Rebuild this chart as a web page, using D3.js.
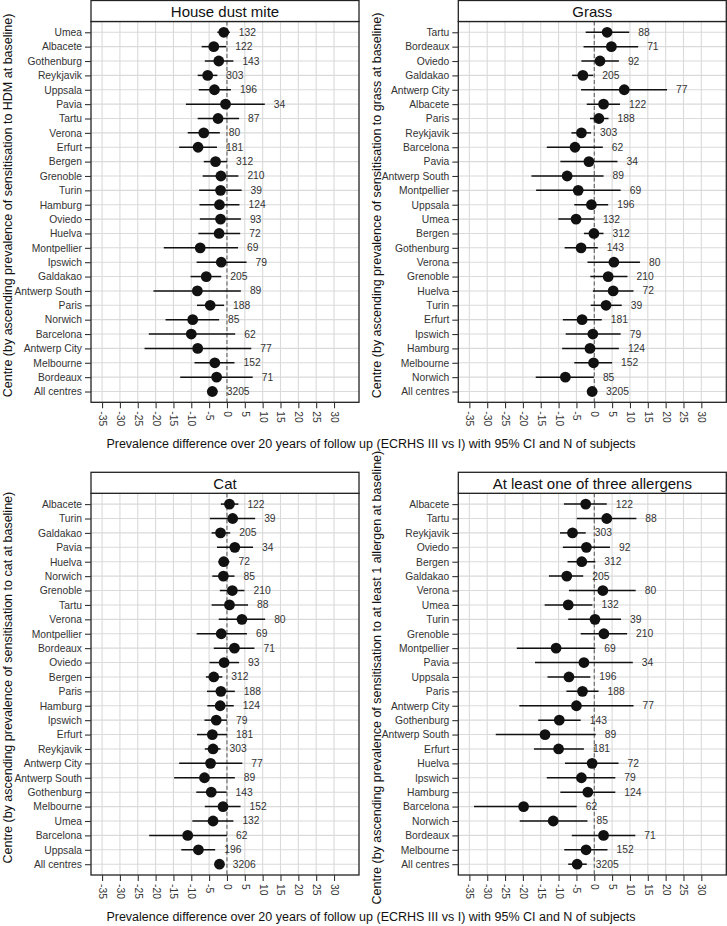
<!DOCTYPE html>
<html>
<head>
<meta charset="utf-8">
<script src="https://cdn.jsdelivr.net/npm/d3@7"></script>
<style>
  html, body { margin: 0; padding: 0; background: #fff; }
  svg { display: block; font-family: "Liberation Sans", Arial, sans-serif; }
</style>
</head>
<body>
<svg id="chart" width="727" height="926"></svg>
<script>
// ---------------- DATA ----------------
const xTicks = [-35, -30, -25, -20, -15, -10, -5, 0, 5, 10, 15, 20, 25, 30];

const hdmCentres = ["Umea","Albacete","Gothenburg","Reykjavik","Uppsala","Pavia","Tartu","Verona","Erfurt","Bergen","Grenoble","Turin","Hamburg","Oviedo","Huelva","Montpellier","Ipswich","Galdakao","Antwerp South","Paris","Norwich","Barcelona","Antwerp City","Melbourne","Bordeaux","All centres"];
const hdmEst = [-0.9,-3.7,-2.3,-5.4,-3.5,-0.4,-2.5,-6.5,-8.1,-3.2,-1.7,-1.8,-2.1,-1.8,-2.2,-7.5,-1.6,-5.8,-8.3,-4.7,-9.6,-10.0,-8.2,-3.4,-2.9,-4.1];
const hdmLo  = [-2.7,-7.1,-6.2,-8.2,-7.9,-11.5,-8.2,-11.0,-13.4,-6.5,-6.8,-7.8,-7.7,-7.6,-8.0,-17.7,-8.5,-10.2,-20.6,-8.4,-17.2,-21.9,-23.1,-9.1,-13.1,-5.6];
const hdmHi  = [0.8,-0.2,1.8,-2.7,1.1,10.6,3.4,-2.0,-2.8,0.0,3.2,4.1,3.5,3.9,3.7,3.1,5.5,-1.6,3.9,-0.8,-2.2,2.3,6.8,2.1,7.2,-2.6];
const hdmN   = [132,122,143,303,196,34,87,80,181,312,210,39,124,93,72,69,79,205,89,188,85,62,77,152,71,3205];

const grassCentres = ["Tartu","Bordeaux","Oviedo","Galdakao","Antwerp City","Albacete","Paris","Reykjavik","Barcelona","Pavia","Antwerp South","Montpellier","Uppsala","Umea","Bergen","Gothenburg","Verona","Grenoble","Huelva","Turin","Erfurt","Ipswich","Hamburg","Melbourne","Norwich","All centres"];
const grassEst = [3.6,4.8,1.6,-3.2,8.4,2.6,1.3,-3.6,-5.4,-1.5,-7.6,-4.5,-0.8,-5.1,-0.1,-3.7,5.5,3.9,5.3,3.3,-3.4,-0.4,-1.2,-0.2,-8.1,-0.6];
const grassLo  = [-2.4,-3.0,-3.6,-6.2,-3.7,-2.1,-1.2,-6.4,-13.3,-9.5,-17.6,-16.3,-5.6,-10.1,-2.9,-8.3,-1.9,-1.1,-0.4,-1.0,-8.8,-8.0,-9.0,-5.6,-16.4,-1.7];
const grassHi  = [9.8,12.3,6.9,-0.3,20.4,7.2,4.0,-0.9,2.4,6.5,2.6,7.4,3.9,-0.1,2.6,1.0,12.8,9.3,11.0,7.7,2.1,7.4,6.9,5.0,-0.1,0.8];
const grassN   = [88,71,92,205,77,122,188,303,62,34,89,69,196,132,312,143,80,210,72,39,181,79,124,152,85,3205];

const catCentres = ["Albacete","Turin","Galdakao","Pavia","Huelva","Norwich","Grenoble","Tartu","Verona","Montpellier","Bordeaux","Oviedo","Bergen","Paris","Hamburg","Ipswich","Erfurt","Reykjavik","Antwerp City","Antwerp South","Gothenburg","Melbourne","Umea","Barcelona","Uppsala","All centres"];
const catEst = [0.7,1.6,-1.8,2.2,-0.9,-1.0,1.5,0.7,4.2,-1.6,2.1,-0.8,-3.7,-1.7,-1.9,-3.0,-4.1,-3.9,-4.6,-6.3,-4.4,-1.1,-3.9,-11.0,-8.0,-2.1];
const catLo  = [-1.7,-4.8,-4.3,-2.8,-2.4,-4.1,-2.0,-4.3,-2.3,-8.5,-3.7,-4.9,-5.9,-5.6,-5.5,-6.3,-8.4,-6.2,-13.4,-14.8,-8.6,-6.2,-9.7,-21.8,-12.8,-3.4];
const catHi  = [3.2,7.9,0.9,7.3,0.7,2.1,4.9,5.9,10.7,5.6,7.7,3.4,-1.3,2.2,1.9,0.0,0.0,-1.8,4.3,2.2,-0.1,3.8,1.8,0.0,-3.3,-0.9];
const catN   = [122,39,205,34,72,85,210,88,80,69,71,93,312,188,124,79,181,303,77,89,143,152,132,62,196,3206];

const anyCentres = ["Albacete","Tartu","Reykjavik","Oviedo","Bergen","Galdakao","Verona","Umea","Turin","Grenoble","Montpellier","Pavia","Uppsala","Paris","Antwerp City","Gothenburg","Antwerp South","Erfurt","Huelva","Ipswich","Hamburg","Barcelona","Norwich","Bordeaux","Melbourne","All centres"];
const anyEst = [-2.4,3.5,-6.1,-2.2,-3.5,-7.7,2.4,-7.3,0.2,2.7,-10.7,-2.9,-7.1,-3.3,-5.0,-9.8,-13.8,-10.0,-0.6,-3.6,-1.8,-19.8,-11.5,2.6,-2.3,-4.8];
const anyLo  = [-8.5,-4.9,-9.6,-8.8,-7.5,-12.7,-7.1,-13.9,-7.3,-3.8,-21.7,-16.6,-13.1,-7.8,-21.0,-15.7,-27.6,-16.9,-8.2,-13.3,-9.5,-33.7,-20.9,-6.3,-8.4,-7.3];
const anyHi  = [3.5,11.8,-2.4,4.4,0.3,-3.1,11.6,-0.5,7.5,9.2,0.3,10.8,-1.1,1.2,11.0,-3.8,0.4,-2.9,6.8,5.9,5.9,-4.9,-1.9,11.5,3.7,-2.1];
const anyN   = [122,88,303,92,312,205,80,132,39,210,69,34,196,188,77,143,89,181,72,79,124,62,85,71,152,3205];

const panelTitles = ["House dust mite","Grass","Cat","At least one of three allergens"];
const yTitles = [
  "Centre (by ascending prevalence of sensitisation to HDM at baseline)",
  "Centre (by ascending prevalence of sensitisation to grass at baseline)",
  "Centre (by ascending prevalence of sensitisation to cat at baseline)",
  "Centre (by ascending prevalence of sensitisation to at least 1 allergen at baseline)"
];
const xTitle = "Prevalence difference over 20 years of follow up (ECRHS III vs I) with 95% CI and N of subjects";

// ---------------- LAYOUT ----------------
const svg = d3.select("#chart");
const panelW = 268;
const colLeft = [91, 458.3];
const rowTop = [0.5, 472.3];     // strip top
const stripH = 21;
const rowBottom = [402.3, 875];  // plot bottom
const xDomain = [-38.1, 37.0];
const tickFont = 10.3;

const datasets = [
  {centres: hdmCentres, est: hdmEst, lo: hdmLo, hi: hdmHi, n: hdmN},
  {centres: grassCentres, est: grassEst, lo: grassLo, hi: grassHi, n: grassN},
  {centres: catCentres, est: catEst, lo: catLo, hi: catHi, n: catN},
  {centres: anyCentres, est: anyEst, lo: anyLo, hi: anyHi, n: anyN}
];

datasets.forEach((ds, i) => {
  const col = i % 2, row = Math.floor(i / 2);
  const left = colLeft[col], right = left + panelW;
  const top = rowTop[row], plotTop = top + stripH, bottom = rowBottom[row];

  const x = d3.scaleLinear().domain(xDomain).range([left, right]);
  const y = d3.scalePoint().domain(ds.centres).range([plotTop, bottom]).padding(0.75);

  const g = svg.append("g");

  g.append("rect").attr("x", left).attr("y", plotTop).attr("width", panelW).attr("height", bottom - plotTop)
    .attr("fill", "#fff");

  g.selectAll(".vgrid").data(xTicks).join("line")
    .attr("x1", d => x(d)).attr("x2", d => x(d))
    .attr("y1", plotTop).attr("y2", bottom)
    .attr("stroke", "#dadada").attr("stroke-width", 1.1);
  g.selectAll(".hgrid").data(ds.centres).join("line")
    .attr("x1", left).attr("x2", right)
    .attr("y1", d => y(d)).attr("y2", d => y(d))
    .attr("stroke", "#dadada").attr("stroke-width", 1.1);

  g.append("line").attr("x1", x(0)).attr("x2", x(0)).attr("y1", plotTop).attr("y2", bottom)
    .attr("stroke", "#555").attr("stroke-width", 1).attr("stroke-dasharray", "4,2.5");

  const rows = ds.centres.map((c, k) => ({c, est: ds.est[k], lo: ds.lo[k], hi: ds.hi[k], n: ds.n[k]}));

  g.selectAll(".ci").data(rows).join("line")
    .attr("x1", d => x(d.lo)).attr("x2", d => x(d.hi))
    .attr("y1", d => y(d.c)).attr("y2", d => y(d.c))
    .attr("stroke", "#111").attr("stroke-width", 1.5);

  g.selectAll(".pt").data(rows).join("circle")
    .attr("cx", d => x(d.est)).attr("cy", d => y(d.c)).attr("r", 5.4)
    .attr("fill", "#111");

  g.selectAll(".nl").data(rows).join("text")
    .attr("x", d => x(d.hi) + 9).attr("y", d => y(d.c))
    .attr("dominant-baseline", "central")
    .attr("font-size", tickFont).attr("fill", "#333")
    .text(d => d.n);

  g.append("rect").attr("x", left).attr("y", plotTop).attr("width", panelW).attr("height", bottom - plotTop)
    .attr("fill", "none").attr("stroke", "#222").attr("stroke-width", 1.3);

  g.append("rect").attr("x", left).attr("y", top).attr("width", panelW).attr("height", stripH)
    .attr("fill", "#fff").attr("stroke", "#222").attr("stroke-width", 1.3);
  g.append("text").attr("x", (left + right) / 2).attr("y", top + stripH / 2 + 0.5)
    .attr("text-anchor", "middle").attr("dominant-baseline", "central")
    .attr("font-size", 15).attr("fill", "#111").text(panelTitles[i]);

  const yAxis = d3.axisLeft(y).tickSize(6).tickPadding(3);
  const ya = g.append("g").attr("transform", `translate(${left},0)`).call(yAxis);
  ya.select(".domain").remove();
  ya.selectAll(".tick line").attr("stroke", "#333").attr("stroke-width", 1.1);
  ya.selectAll(".tick text").attr("font-size", tickFont).attr("fill", "#333")
    .attr("font-family", "Liberation Sans, Arial, sans-serif");

  const xAxis = d3.axisBottom(x).tickValues(xTicks).tickSize(6).tickFormat(d3.format("d"));
  const xa = g.append("g").attr("transform", `translate(0,${bottom})`).call(xAxis);
  xa.select(".domain").remove();
  xa.selectAll(".tick line").attr("stroke", "#333").attr("stroke-width", 1.1);
  xa.selectAll(".tick text")
    .attr("font-size", tickFont).attr("fill", "#333")
    .attr("font-family", "Liberation Sans, Arial, sans-serif")
    .attr("text-anchor", "start").attr("dominant-baseline", "central")
    .attr("dy", null).attr("y", 0).attr("x", 0)
    .attr("transform", "translate(0,9) rotate(90)")
    .text(d => d < 0 ? "-" + Math.abs(d) : d);

  const cy = (top + bottom) / 2 + 4;
  const tx = col === 0 ? 8 : 377;
  g.append("text").attr("transform", `translate(${tx},${cy}) rotate(-90)`)
    .attr("text-anchor", "middle").attr("dominant-baseline", "central")
    .attr("font-size", 12.5).attr("fill", "#111").text(yTitles[i]);
});

[448, 921].forEach(yy => {
  svg.append("text").attr("x", 371).attr("y", yy).attr("text-anchor", "middle")
    .attr("font-size", 12.5).attr("fill", "#111").text(xTitle);
});
</script>
</body>
</html>
